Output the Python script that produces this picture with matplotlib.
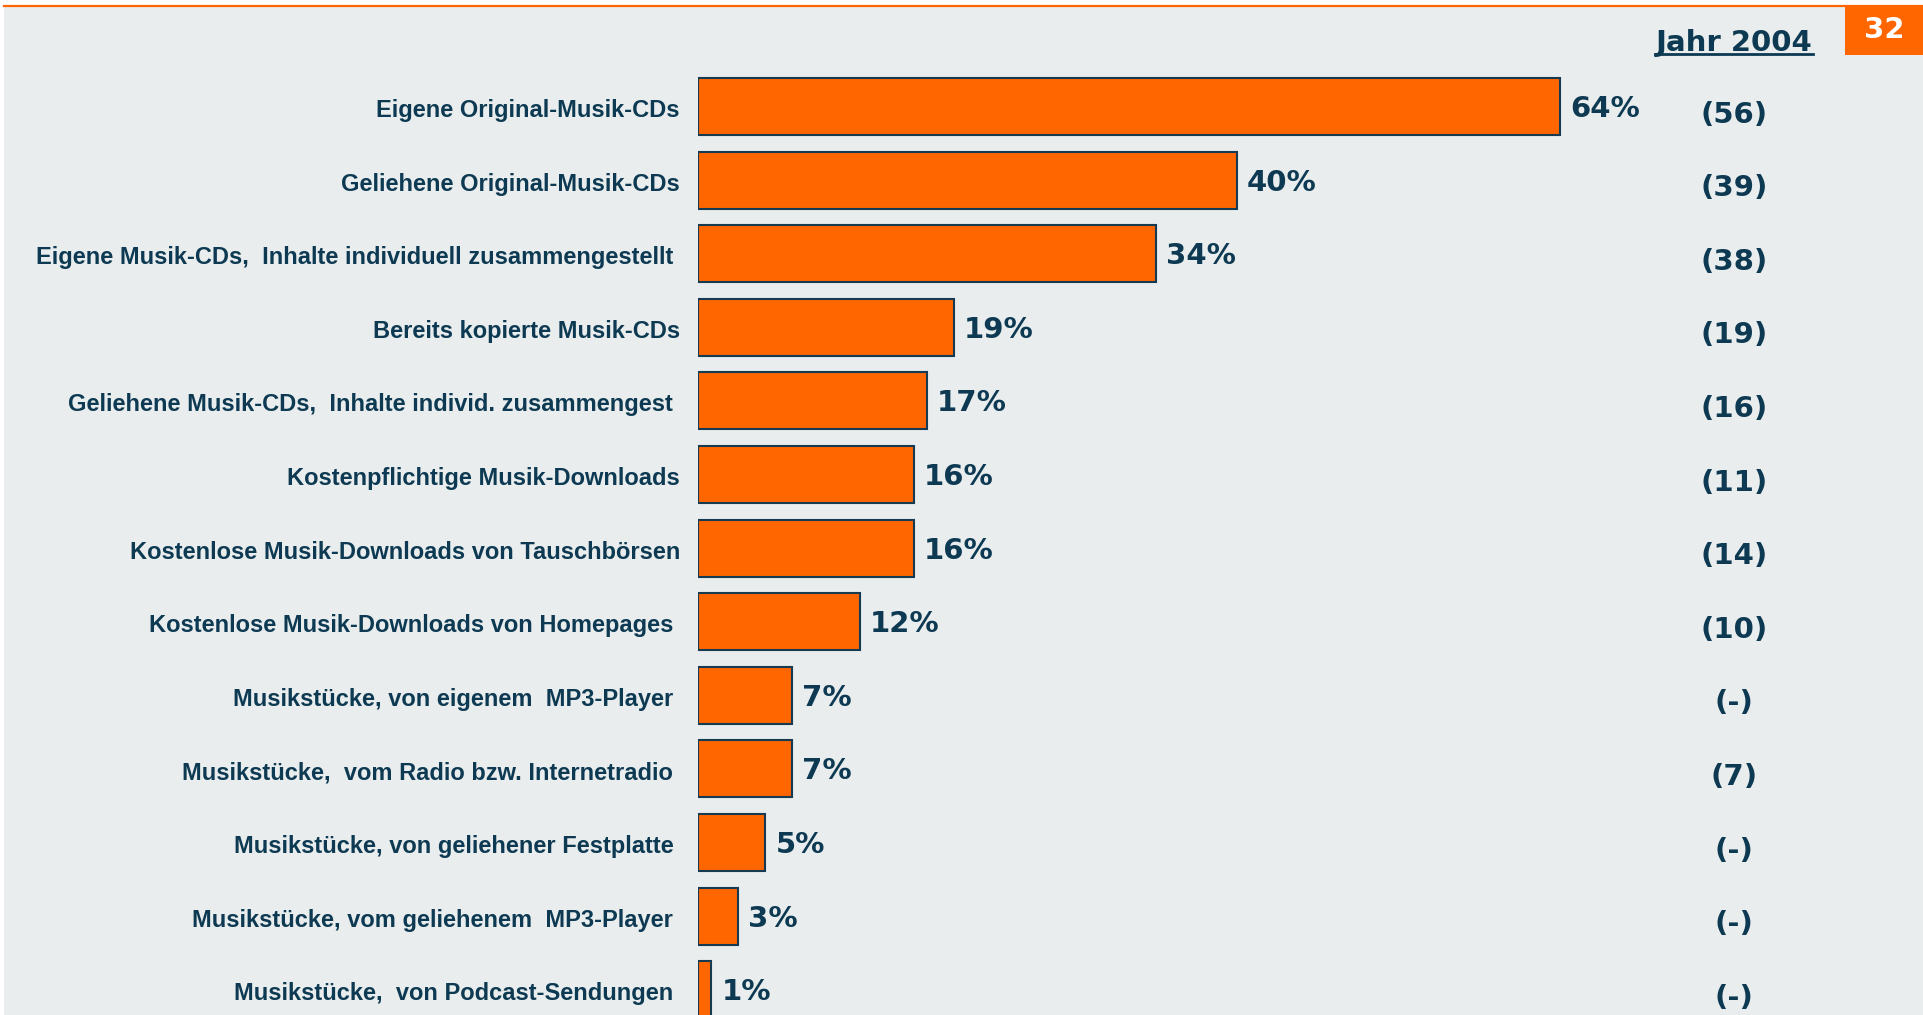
import matplotlib
matplotlib.use("Agg")
import matplotlib.pyplot as plt
import matplotlib.transforms as mtransforms
from matplotlib.patches import Rectangle
from matplotlib.lines import Line2D

# Daten
labels = [
    "Eigene Original-Musik-CDs",
    "Geliehene Original-Musik-CDs",
    "Eigene Musik-CDs,  Inhalte individuell zusammengestellt ",
    "Bereits kopierte Musik-CDs",
    "Geliehene Musik-CDs,  Inhalte individ. zusammengest ",
    "Kostenpflichtige Musik-Downloads",
    "Kostenlose Musik-Downloads von Tauschbörsen",
    "Kostenlose Musik-Downloads von Homepages ",
    "Musikstücke, von eigenem  MP3-Player ",
    "Musikstücke,  vom Radio bzw. Internetradio ",
    "Musikstücke, von geliehener Festplatte ",
    "Musikstücke, vom geliehenem  MP3-Player ",
    "Musikstücke,  von Podcast-Sendungen ",
]
values = [64, 40, 34, 19, 17, 16, 16, 12, 7, 7, 5, 3, 1]
prev_year = ["(56)", "(39)", "(38)", "(19)", "(16)", "(11)", "(14)",
             "(10)", "(-)", "(7)", "(-)", "(-)", "(-)"]
prev_title = "Jahr 2004"
page_no = "32"

W, H = 1924, 1015
navy = "#0D3A52"
orange = "#FF6600"
bg = "#E9EDEE"
pt = 0.72  # 1 px in Punkt bei dpi 100

fig = plt.figure(figsize=(W / 100, H / 100), dpi=100)
fig.patch.set_facecolor("white")

# grauer Hintergrund + orange Linie oben
fig.add_artist(Rectangle((4 / W, 0), 1, 1 - 7 / H, transform=fig.transFigure,
                         facecolor=bg, edgecolor="none", zorder=0))
fig.add_artist(Line2D([4 / W, 1], [1 - 6 / H, 1 - 6 / H], transform=fig.transFigure,
                      color=orange, lw=1.6, zorder=1))

# Achse: x=0 bei Pixel 698, 13.47 px pro Prozent
x0 = 698
px_per = 13.47
ax = fig.add_axes([x0 / W, 0, (W - x0) / W, 1])
ax.set_xlim(0, (W - x0) / px_per)
c0, step = 106.5, 73.6
ax.set_ylim((H - c0) / step, -c0 / step)
ax.axis("off")
ax.patch.set_alpha(0)

ypos = list(range(len(values)))
ax.barh(ypos, values, height=0.775, color=orange, edgecolor="#163A52",
        linewidth=1.5, zorder=3)

for i, (lab, v) in enumerate(zip(labels, values)):
    ax.annotate(lab, xy=(0, i), xytext=(-18 * pt, -4 * pt), textcoords="offset points",
                ha="right", va="center", fontsize=17, fontweight="bold",
                family="Liberation Sans", color=navy)
    ax.annotate(f"{v}%", xy=(v, i), xytext=(10 * pt, -2.5 * pt), textcoords="offset points",
                ha="left", va="center", fontsize=21, fontweight="bold",
                family="DejaVu Sans", color=navy)

trans = mtransforms.blended_transform_factory(fig.transFigure, ax.transData)
for i, p in enumerate(prev_year):
    ax.annotate(p, xy=(1734 / W, i), xycoords=trans, xytext=(0, -8 * pt),
                textcoords="offset points", ha="center", va="center",
                fontsize=21, fontweight="bold", family="DejaVu Sans", color=navy)

# Überschrift rechts, unterstrichen
fig.text(1734 / W, 1 - 51 / H, prev_title, ha="center", va="baseline",
         fontsize=21, fontweight="bold", family="DejaVu Sans", color=navy)
fig.add_artist(Line2D([1655 / W, 1813 / W], [1 - 54 / H, 1 - 54 / H],
                      transform=fig.transFigure, color=navy, lw=2))

# Seitenzahl
fig.add_artist(Rectangle((1845 / W, 1 - 55 / H), 79 / W, 48 / H,
                         transform=fig.transFigure, facecolor=orange,
                         edgecolor="none", zorder=2))
fig.text(1884 / W, 1 - 30 / H, page_no, ha="center", va="center", fontsize=21,
         fontweight="bold", family="DejaVu Sans", color="white", zorder=3)

fig.savefig("out.png", dpi=100, facecolor=fig.get_facecolor())
